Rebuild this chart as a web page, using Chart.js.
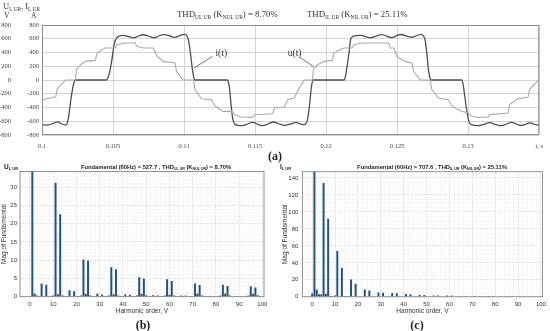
<!DOCTYPE html>
<html>
<head>
<meta charset="utf-8">
<script src="https://cdn.jsdelivr.net/npm/chart.js@4.4.1/dist/chart.umd.min.js"></script>
<style>
  html, body { margin: 0; padding: 0; background: #fff; }
  body { width: 550px; height: 331px; position: relative; overflow: hidden; }
  canvas { position: absolute; }
  .tag { position: absolute; font: bold 12px "Liberation Serif", serif; color: #222; transform: translateX(-50%); }
</style>
</head>
<body>
<canvas id="wave" width="550" height="160" style="left:0;top:0"></canvas>
<canvas id="specU" width="275" height="171" style="left:0;top:160px"></canvas>
<canvas id="specI" width="275" height="171" style="left:275px;top:160px"></canvas>
<div class="tag" style="left:275px;top:149px">(a)</div>
<div class="tag" style="left:143px;top:318px">(b)</div>
<div class="tag" style="left:417px;top:318px">(c)</div>
<script>
// ---- panel (a): time waveforms ----
const tTicks = [0.1, 0.105, 0.11, 0.115, 0.12, 0.125, 0.13, 0.135];
const tTickLabels = ['0.1', '0.105', '0.11', '0.115', '0.12', '0.125', '0.13', 't, s'];
const waveTicks = [-800, -600, -400, -200, 0, 200, 400, 600, 800];

// current i(t), A
const tCurrent = [0.1, 0.1004, 0.1008, 0.1011, 0.1014, 0.1017, 0.1018, 0.1019, 0.102, 0.1021, 0.1022, 0.10235,
  0.10455, 0.10465, 0.10476, 0.10492, 0.10505, 0.10515, 0.10525, 0.1054, 0.10574, 0.1061, 0.10644, 0.1068, 0.10714,
  0.1075, 0.10789, 0.1082, 0.10859, 0.109, 0.10936, 0.1097, 0.11006, 0.1102, 0.11032, 0.11045, 0.11059, 0.11068, 0.11076,
  0.11304, 0.11314, 0.11321, 0.11332, 0.11344, 0.11356, 0.1138, 0.11402, 0.1144, 0.11484, 0.1152, 0.11554, 0.1159,
  0.11631, 0.1167, 0.1171, 0.1175, 0.11787, 0.1182, 0.11846, 0.11858, 0.11869, 0.11885, 0.11897, 0.11909,
  0.12126, 0.12135, 0.12144, 0.12161, 0.12172, 0.12189, 0.12242, 0.12315, 0.1239, 0.12462, 0.1252, 0.12604, 0.12668,
  0.12686, 0.12698, 0.12709, 0.1272, 0.1273, 0.12738,
  0.12954, 0.12964, 0.12973, 0.12989, 0.13005, 0.13024, 0.13071, 0.1311, 0.13152, 0.1319, 0.13234, 0.1327, 0.13304,
  0.1334, 0.13374, 0.1341, 0.13432, 0.1346, 0.135];
const iCurrent = [-650, -655, -630, -610, -640, -655, -610, -500, -335, -190, -80, 0,
  0, 40, 110, 295, 480, 570, 610, 634, 650, 630, 612, 640, 658,
  640, 612, 640, 660, 640, 620, 645, 665, 640, 570, 390, 150, 40, 0,
  0, -50, -141, -384, -577, -640, -660, -665, -645, -616, -645, -665, -640,
  -611, -640, -660, -640, -616, -640, -650, -630, -577, -335, -93, 0,
  0, 40, 150, 392, 586, 634, 650, 615, 660, 615, 662, 622, 665,
  640, 570, 390, 150, 40, 0,
  0, -60, -190, -432, -602, -650, -665, -645, -620, -645, -665, -640, -615,
  -640, -662, -640, -620, -640, -660];

// voltage u(t), V
const tVoltage = [0.1, 0.10026, 0.10096, 0.10107, 0.10125, 0.10166, 0.10236, 0.10242, 0.10271, 0.10306, 0.10376,
  0.10387, 0.10411, 0.10446, 0.10516, 0.10527, 0.10586, 0.10656, 0.10667, 0.10714, 0.10784, 0.10807, 0.10854,
  0.10936, 0.10947, 0.10994, 0.11066, 0.11078, 0.11122, 0.11192, 0.11216, 0.11239, 0.11274, 0.11332, 0.11356,
  0.11402, 0.11484, 0.11495, 0.11624, 0.11636, 0.11706, 0.11729, 0.11776, 0.11799, 0.11846, 0.11904, 0.1191,
  0.11939, 0.11986, 0.12044, 0.12056, 0.12079, 0.12126, 0.12184, 0.12196, 0.12254, 0.12441, 0.12452, 0.12476,
  0.12499, 0.12557, 0.12604, 0.12616, 0.12662, 0.12732, 0.12744, 0.12791, 0.12861, 0.12884, 0.12919, 0.12954,
  0.13001, 0.13024, 0.13059, 0.13141, 0.13152, 0.13281, 0.13292, 0.13351, 0.13421, 0.13432, 0.13491, 0.135];
const uVoltage = [-301, -272, -247, -130, -90, 0, 0, 150, 222, 271, 285,
  392, 426, 465, 465, 513, 538, 538, 489, 465, 465, 353, 271,
  247, 125, 0, 0, -141, -272, -287, -374, -408, -456, -456, -505,
  -538, -543, -505, -490, -408, -393, -287, -262, -165, 0, 0, 150,
  222, 271, 285, 392, 426, 465, 465, 513, 538, 538, 465, 465,
  344, 271, 247, 126, 0, 0, -140, -262, -286, -373, -421, -455,
  -480, -528, -542, -542, -503, -480, -358, -271, -252, -140, -10, 0];

// ---- panels (b), (c): harmonic spectra ----
const harmonicTicks = [0, 10, 20, 30, 40, 50, 60, 70, 80, 90, 100];
const specUTicks = [0, 5, 10, 15, 20, 25, 30];
const specITicks = [0, 20, 40, 60, 80, 100, 120, 140];

const ordersU = [1, 2, 3, 5, 7, 9, 10, 11, 12, 13, 14, 16, 17, 19, 21, 22, 23, 24, 25, 26, 29, 31, 33, 34, 35, 36, 37, 38,
  41, 43, 45, 46, 47, 48, 49, 50, 53, 55, 57, 58, 59, 60, 61, 62, 65, 66, 67, 69, 71, 72, 73, 74, 77, 79,
  81, 82, 83, 84, 85, 86, 89, 91, 93, 94, 95, 96, 97, 98];
const magU = [100, 0.9, 0.3, 3.6, 3.3, 0.2, 0.3, 31.2, 0.7, 22.6, 0.3, 0.2, 1.8, 1.5, 0.2, 0.3, 10.2, 0.8, 9.9, 0.3, 0.9, 0.6, 0.2, 0.3, 8.1, 0.7, 7.5, 0.3,
  0.6, 0.5, 0.2, 0.3, 5.3, 0.8, 5.0, 0.4, 0.4, 0.3, 0.2, 0.3, 4.8, 0.5, 4.3, 0.3, 0.3, 0.2, 0.3, 0.2, 3.6, 0.9, 3.2, 0.3, 0.2, 0.2,
  0.2, 0.3, 3.3, 0.9, 2.9, 0.3, 0.2, 0.2, 0.2, 0.3, 2.85, 0.8, 2.5, 0.4];

const ordersI = [0, 1, 2, 3, 4, 5, 6, 7, 8, 9, 10, 11, 12, 13, 14, 15, 17, 19, 23, 25, 29, 31, 35, 37, 41, 43, 47, 49,
  53, 55, 59, 61, 65, 67, 71, 73, 77, 79, 83, 85, 89, 91, 95, 97];
const magI = [4, 150, 8.5, 3, 3, 134, 3.5, 92, 0.8, 1, 1.5, 54, 1, 34, 1, 0.8, 20.5, 15.5, 8.5, 7.5, 5, 4.8, 4.5, 4.3, 3.3, 3, 2, 2,
  1.5, 1.5, 1.5, 1.5, 1, 0.8, 0.8, 0.8, 0.8, 0.7, 0.6, 0.6, 0.5, 0.4, 0.4, 0.3];

const SERIF = '"Liberation Serif", serif';
const SANS = '"Liberation Sans", Arial, sans-serif';
const BAR = '#22527f';

// text with subscripts: parts = [[text, isSub], ...]
function drawRich(ctx, parts, x, y, size, family, weight, align) {
  const fonts = parts.map(p => `${weight} ${p[1] ? size * 0.62 : size}px ${family}`);
  let total = 0;
  parts.forEach((p, k) => { ctx.font = fonts[k]; total += ctx.measureText(p[0]).width; });
  let cx = align === 'center' ? x - total / 2 : x;
  ctx.textAlign = 'left';
  ctx.textBaseline = 'alphabetic';
  parts.forEach((p, k) => {
    ctx.font = fonts[k];
    ctx.fillText(p[0], cx, p[1] ? y + size * 0.18 : y);
    cx += ctx.measureText(p[0]).width;
  });
}

const waveDecor = {
  id: 'waveDecor',
  afterDraw(chart) {
    const { ctx, chartArea: a, scales: { x, yA } } = chart;
    ctx.save();
    ctx.strokeStyle = '#8c8c8c';
    ctx.lineWidth = 1;
    ctx.strokeRect(a.left + 0.5, a.top + 0.5, a.width - 1, a.height - 1);
    ctx.fillStyle = '#333';
    drawRich(ctx, [['U'], ['L UR', 1], [', I'], ['L UR', 1]], 3, 9, 8.5, SERIF, 'normal');
    drawRich(ctx, [['V']], 4, 18, 7.5, SERIF, 'normal');
    drawRich(ctx, [['A']], 31, 18, 7.5, SERIF, 'normal');
    drawRich(ctx, [['THD'], ['UL UR', 1], [' (K'], ['NUL UR', 1], [') = 8.70%']], 177, 17, 8.8, SERIF, 'normal');
    drawRich(ctx, [['THD'], ['IL UR', 1], [' (K'], ['NIL UR', 1], [') = 25.11%']], 307, 17, 8.8, SERIF, 'normal');
    // curve labels with leader lines
    ctx.strokeStyle = '#555';
    ctx.lineWidth = 0.8;
    ctx.beginPath();
    ctx.moveTo(x.getPixelForValue(0.1107), yA.getPixelForValue(174));
    ctx.lineTo(x.getPixelForValue(0.1120), yA.getPixelForValue(343));
    ctx.moveTo(x.getPixelForValue(0.11811), yA.getPixelForValue(334));
    ctx.lineTo(x.getPixelForValue(0.11916), yA.getPixelForValue(189));
    ctx.stroke();
    ctx.font = '9.5px ' + SERIF;
    ctx.textAlign = 'center';
    ctx.textBaseline = 'middle';
    ctx.fillText('i(t)', x.getPixelForValue(0.11262), yA.getPixelForValue(380));
    ctx.fillText('u(t)', x.getPixelForValue(0.11778), yA.getPixelForValue(390));
    ctx.restore();
  }
};

const pts = (xs, ys) => xs.map((v, k) => ({ x: v, y: ys[k] }));

new Chart(document.getElementById('wave'), {
  type: 'line',
  data: {
    datasets: [
      { label: 'u(t)', data: pts(tVoltage, uVoltage), yAxisID: 'yV', borderColor: '#a9a9a9', borderWidth: 1.1, pointRadius: 0, tension: 0 },
      { label: 'i(t)', data: pts(tCurrent, iCurrent), yAxisID: 'yA', borderColor: '#4f4f4f', borderWidth: 1.3, pointRadius: 0, cubicInterpolationMode: 'monotone' }
    ]
  },
  options: {
    responsive: false,
    animation: false,
    layout: { padding: { left: 0, top: 25, right: 8, bottom: 10 } },
    plugins: { legend: { display: false }, tooltip: { enabled: false } },
    scales: {
      x: {
        type: 'linear', min: 0.1, max: 0.135,
        afterBuildTicks: s => { s.ticks = tTicks.map(v => ({ value: v })); },
        afterFit: s => { s.height = 15; },
        ticks: { callback: (v, k) => tTickLabels[k], font: { family: SERIF, size: 6.5 }, color: '#444', padding: 7, maxRotation: 0, autoSkip: false },
        grid: { color: '#d3d3d3', drawTicks: false },
        border: { display: false }
      },
      yA: {
        position: 'left', weight: 0, min: -800, max: 800,
        afterBuildTicks: s => { s.ticks = waveTicks.map(v => ({ value: v })); },
        afterFit: s => { s.width = 28; },
        ticks: { font: { family: SERIF, size: 6.5 }, color: '#444', padding: 3 },
        grid: { color: '#d3d3d3', drawTicks: false },
        border: { display: false }
      },
      yV: {
        position: 'left', weight: 1, min: -800, max: 800,
        afterBuildTicks: s => { s.ticks = waveTicks.map(v => ({ value: v })); },
        afterFit: s => { s.width = 14; },
        ticks: { font: { family: SERIF, size: 6.5 }, color: '#444', padding: 3 },
        grid: { display: false, drawTicks: false },
        border: { display: false }
      }
    }
  },
  plugins: [waveDecor]
});

const specDecor = {
  id: 'specDecor',
  afterDraw(chart, args, opts) {
    const { ctx, chartArea: a } = chart;
    ctx.save();
    ctx.strokeStyle = '#7a7a7a';
    ctx.lineWidth = 0.8;
    ctx.strokeRect(a.left, a.top, a.width, a.height);
    ctx.fillStyle = '#222';
    drawRich(ctx, opts.header, opts.headerX, 9, 6.5, SANS, 'bold');
    drawRich(ctx, opts.title, opts.titleX, 9, 5.8, SANS, 'bold', 'center');
    ctx.restore();
  }
};

function spectrumChart(id, orders, mags, yMax, yTicks, yMinorStep, box, decor) {
  return new Chart(document.getElementById(id), {
    type: 'bar',
    data: {
      datasets: [{ data: pts(orders, mags), backgroundColor: BAR, borderWidth: 0, barPercentage: 1, categoryPercentage: 0.86 }]
    },
    options: {
      responsive: false,
      animation: false,
      layout: { padding: { left: 0, top: box.top, right: box.right, bottom: box.bottom } },
      plugins: { legend: { display: false }, tooltip: { enabled: false }, specDecor: decor },
      scales: {
        x: {
          type: 'linear', min: -4.3, max: 100.7, offset: false,
          afterBuildTicks: s => { s.ticks = harmonicTicks.map(v => ({ value: v })); },
          afterFit: s => { s.height = 18.2; },
          ticks: { font: { family: SANS, size: 6 }, color: '#333', padding: 4, maxRotation: 0, autoSkip: false },
          grid: { color: '#bdbdbd', lineWidth: 0.8, drawTicks: false, offset: false },
          border: { display: false, dash: [1, 1.5] },
          title: { display: true, text: 'Harmonic order, V', font: { family: SANS, size: 6.5 }, color: '#333', padding: 0 }
        },
        xm: {
          type: 'linear', position: 'bottom', min: -4.3, max: 100.7, offset: false,
          ticks: { display: false, stepSize: 2, includeBounds: false },
          afterFit: s => { s.height = 0; },
          grid: { color: '#e4e4e4', lineWidth: 0.6, drawTicks: false, offset: false },
          border: { display: false, dash: [1, 1.5] }
        },
        y: {
          position: 'left', min: 0, max: yMax,
          afterBuildTicks: s => { s.ticks = yTicks.map(v => ({ value: v })); },
          afterFit: s => { s.width = box.left; },
          ticks: { font: { family: SANS, size: 6 }, color: '#333', padding: box.tickPad },
          grid: { color: '#bdbdbd', lineWidth: 0.8, drawTicks: false },
          border: { display: false, dash: [1, 1.5] },
          title: { display: true, text: 'Mag of Fundamental', font: { family: SANS, size: 6.5 }, color: '#333', padding: { top: box.titlePad, bottom: 0 } }
        },
        ym: {
          position: 'left', min: 0, max: yMax,
          ticks: { display: false, stepSize: yMinorStep, includeBounds: false },
          afterFit: s => { s.width = 0; },
          grid: { color: '#e4e4e4', lineWidth: 0.6, drawTicks: false },
          border: { display: false, dash: [1, 1.5] }
        }
      }
    },
    plugins: [specDecor]
  });
}

spectrumChart('specU', ordersU, magU, 34.3, specUTicks, 1,
  { left: 20, top: 11.5, right: 11, bottom: 16.1, tickPad: 3, titlePad: 0.5 },
  { header: [['U'], ['L UR', 1]], headerX: 4,
    title: [['Fundamental (60Hz) = 527.7 , THD'], ['UL UR', 1], [' (K'], ['NUL UR', 1], [') = 8.70%']], titleX: 156 });

spectrumChart('specI', ordersI, magI, 147.4, specITicks, 5,
  { left: 27.3, top: 11.7, right: 6.5, bottom: 16, tickPad: 4, titlePad: 6 },
  { header: [['I'], ['L UR', 1]], headerX: 5,
    title: [['Fundamental (60Hz) = 707.6 , THD'], ['IL UR', 1], [' (K'], ['NIL UR', 1], [') = 25.11%']], titleX: 157 });
</script>
</body>
</html>
